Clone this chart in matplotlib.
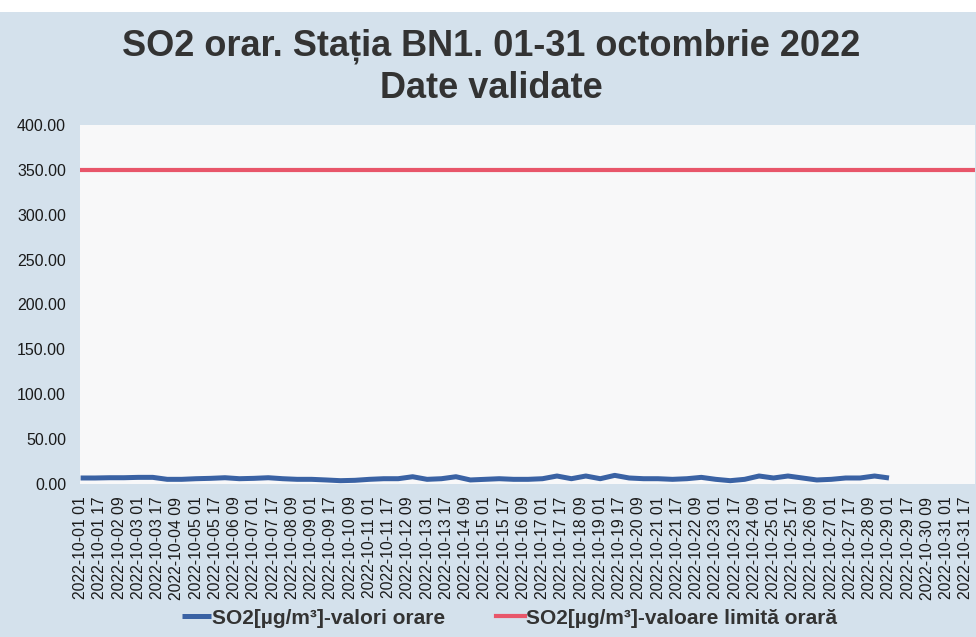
import matplotlib
matplotlib.use('Agg')
import matplotlib.pyplot as plt
import numpy as np
import pandas as pd

plt.rcParams['font.family'] = ['Liberation Sans', 'DejaVu Sans']

# hourly categories 2022-10-01 01 .. 2022-11-01 00
hours = pd.date_range('2022-10-01 01:00', periods=744, freq='h')
tick_pos = np.arange(0, 744, 16)
tick_labels = [hours[i].strftime('%Y-%m-%d %H') for i in tick_pos]

# SO2 hourly values, read every 12 h off the picture (data stops ~2022-10-29 01)
sample_hours = np.arange(0, 673, 12)
so2_values = [6.7, 6.7, 7.0, 7.0, 7.4, 7.4, 5.2, 5.2, 5.9, 6.3, 7.0, 5.9, 6.3, 7.0, 5.9,
              5.2, 5.2, 4.5, 3.7, 4.1, 5.2, 5.9, 5.9, 8.1, 5.2, 5.9, 8.1, 4.5, 5.2,
              5.9, 5.2, 5.2, 5.9, 8.9, 5.9, 8.9, 5.9, 9.6, 6.7, 5.9, 5.9, 5.2, 5.9,
              7.4, 5.2, 3.7, 5.2, 8.9, 6.7, 8.9, 6.7, 4.5, 5.2, 6.7, 6.7, 8.9, 6.7]
limit_value = 350.0

bg = '#d4e1ec'
fig = plt.figure(figsize=(9.76, 6.37), dpi=100, facecolor=bg)
fig.patches.append(plt.Rectangle((0, 1 - 12 / 637), 1, 12 / 637, transform=fig.transFigure,
                                 facecolor='white', edgecolor='none', zorder=0))

ax = fig.add_axes([80 / 976, 1 - 484 / 637, 895 / 976, 359 / 637])
ax.set_facecolor('#f8f8f9')
for s in ax.spines.values():
    s.set_visible(False)

ax.plot(sample_hours, so2_values, color='#3a62a4', lw=3.6, solid_capstyle='butt',
        label='SO2[µg/m³]-valori orare')
ax.plot([-0.5, 743.5], [limit_value, limit_value], color='#e8566a', lw=3.0,
        label='SO2[µg/m³]-valoare limită orară')

ax.set_xlim(-0.5, 743.5)
ax.set_ylim(0, 400)
ax.set_yticks(np.arange(0, 401, 50))
ax.set_yticklabels(['%.2f' % v for v in np.arange(0, 401, 50)], fontsize=11.5, color='#1a1a1a')
ax.set_xticks(tick_pos)
ax.set_xticklabels(tick_labels, rotation=90, fontsize=11.3, color='#1a1a1a')
ax.tick_params(axis='y', length=0, pad=10)
ax.tick_params(axis='x', length=0, pad=9)

fig.text(0.503, 1 - 46 / 637, 'SO2 orar. Stația BN1. 01-31 octombrie 2022', ha='center', va='center',
         fontsize=26, fontweight='bold', color='#333333')
fig.text(0.503, 1 - 88 / 637, 'Date validate', ha='center', va='center',
         fontsize=26, fontweight='bold', color='#333333')

fig.legend(loc='center', bbox_to_anchor=(0.522, 1 - 618 / 637), ncol=2, frameon=False,
           prop={'weight': 'bold', 'size': 15}, handlelength=1.4, handletextpad=0.05,
           columnspacing=2.4, labelcolor='#333333')

fig.savefig('out.png', dpi=100, facecolor=bg)
